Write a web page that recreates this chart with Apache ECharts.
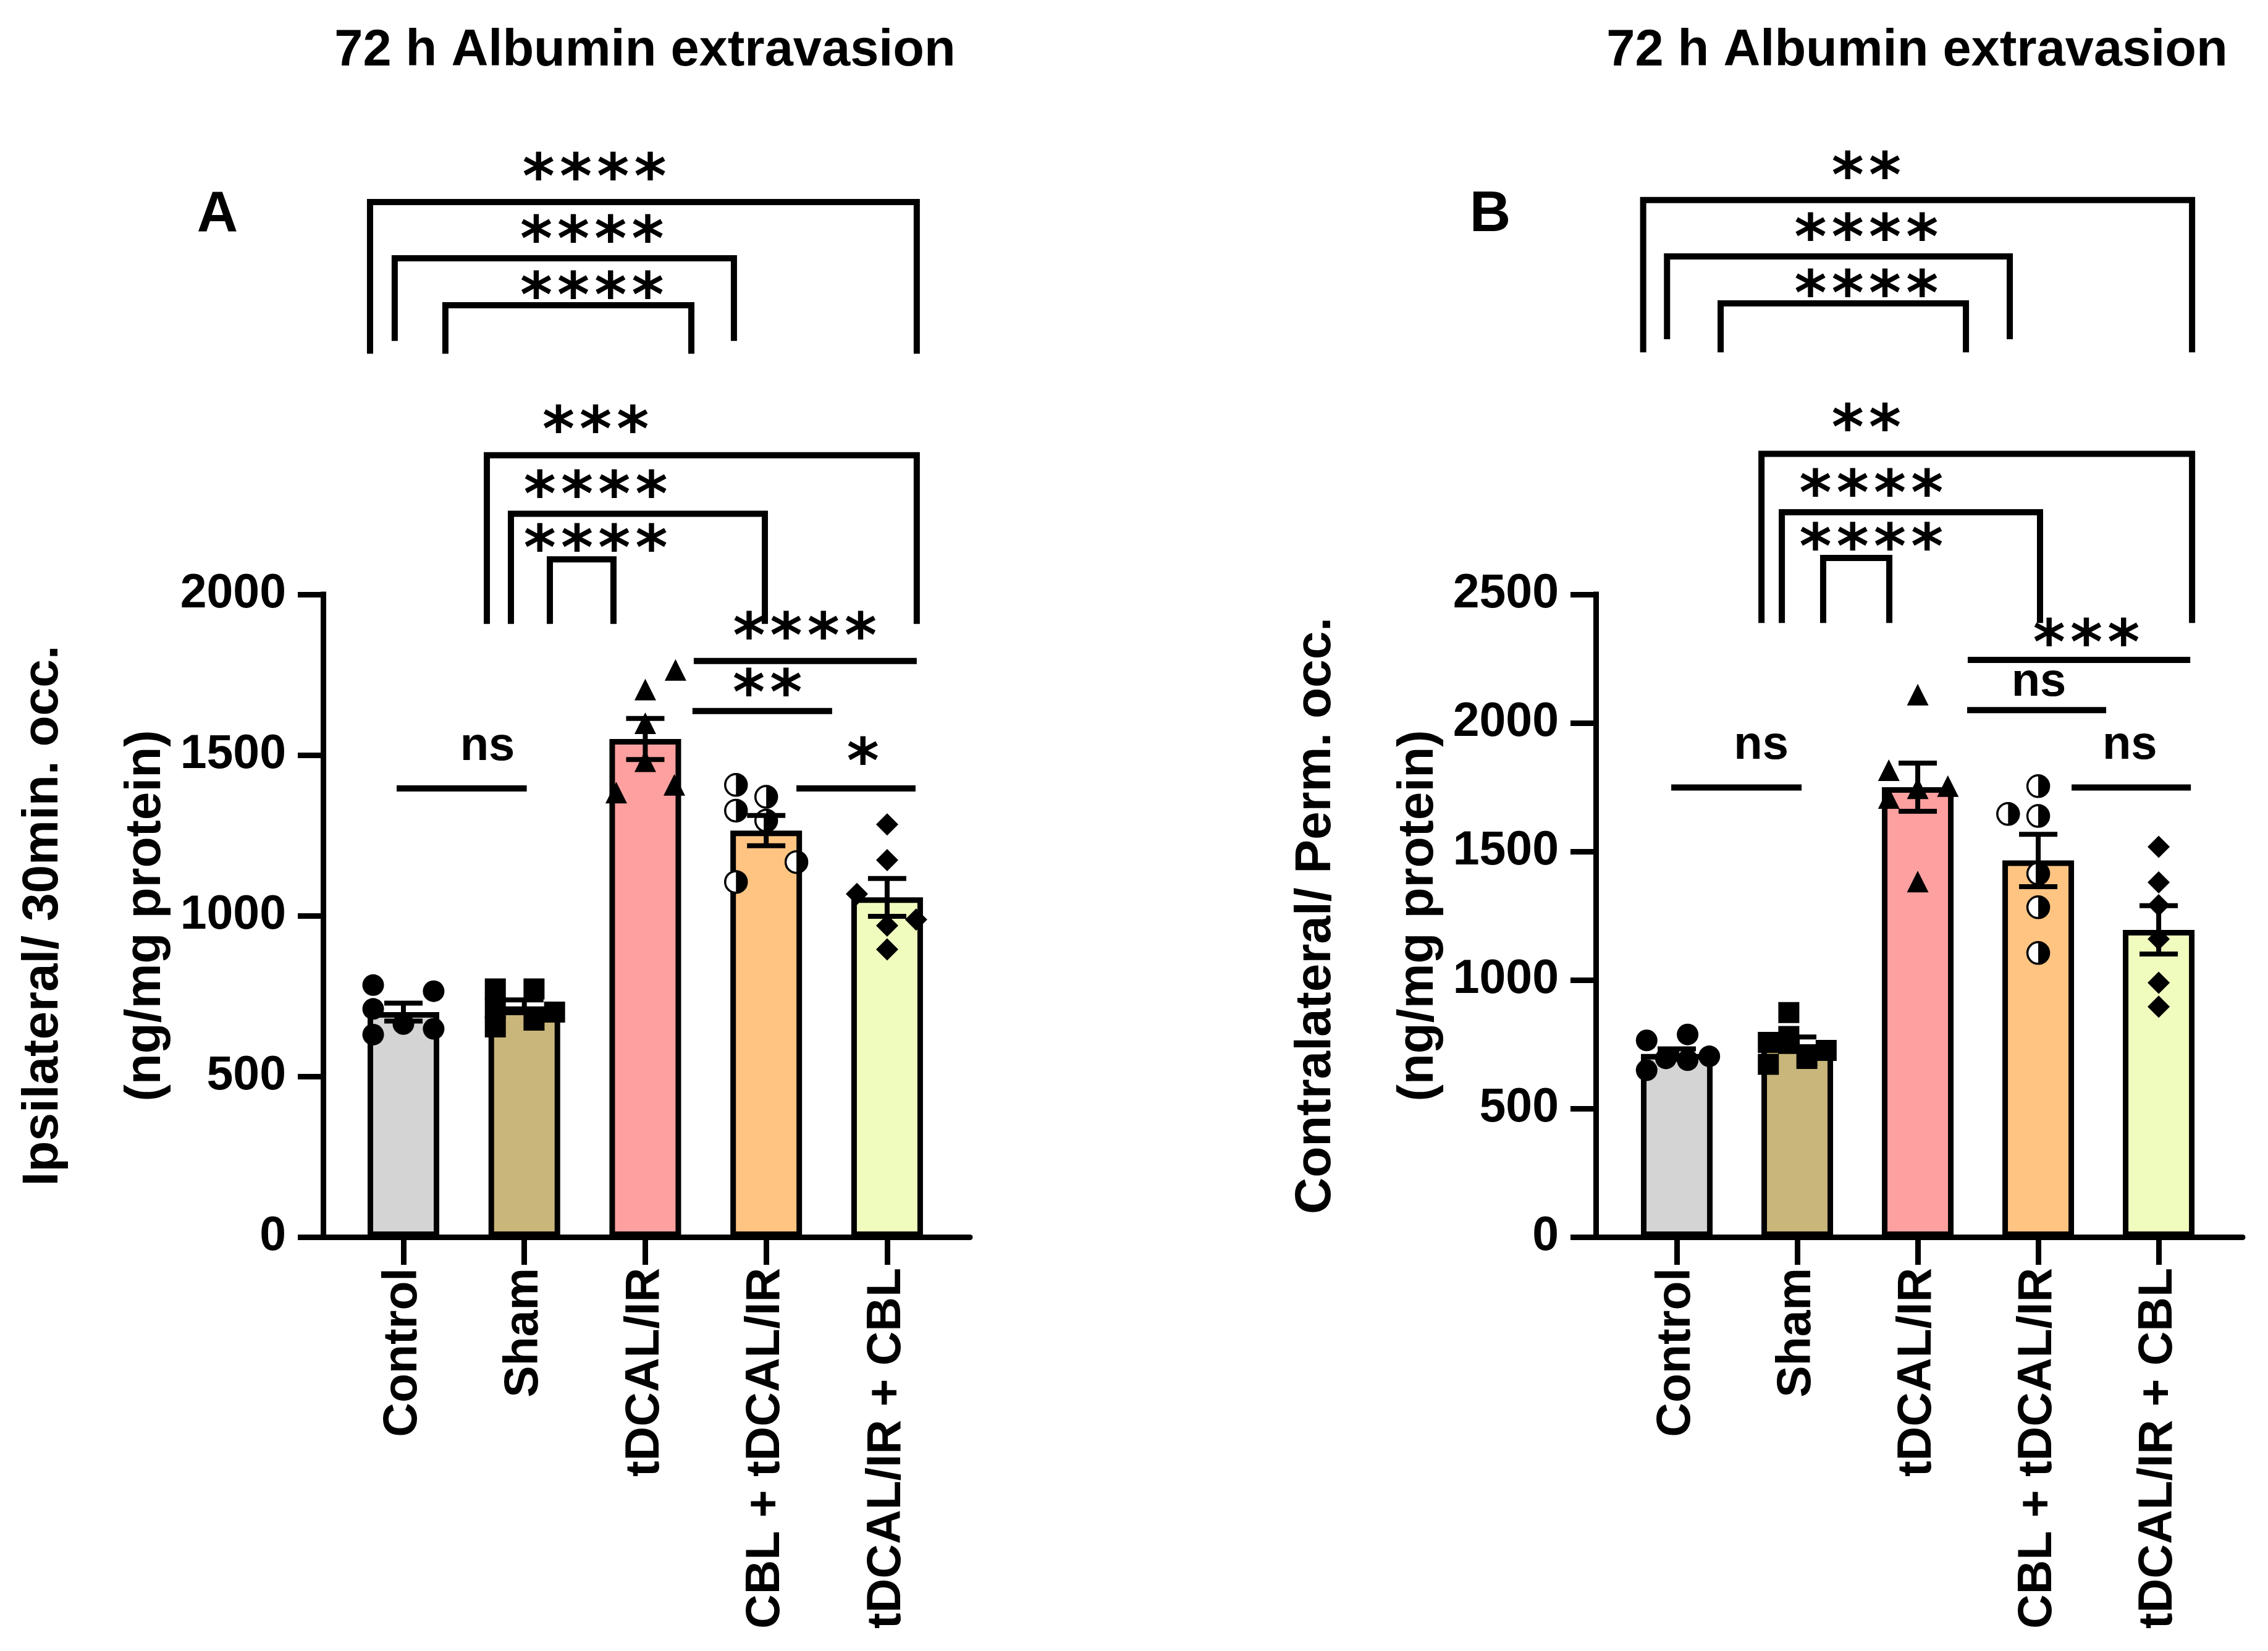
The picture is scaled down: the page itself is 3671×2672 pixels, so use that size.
<!DOCTYPE html>
<html><head><meta charset="utf-8">
<script src="https://cdn.jsdelivr.net/npm/echarts@6/dist/echarts.min.js"></script>
<style>html,body{margin:0;padding:0;background:#fff}#c{width:3671px;height:2672px}</style>
</head><body><div id="c"></div>
<script>
// ---------------- DATA ----------------
const categories = ['Control', 'Sham', 'tDCAL/IR', 'CBL + tDCAL/IR', 'tDCAL/IR + CBL'];
const titleText = '72 h Albumin extravasion';
const yNameA = 'Ipsilateral/ 30min. occ.\n(ng/mg protein)';
const yNameB = 'Contralateral/ Perm. occ.\n(ng/mg protein)';
const yTicksA = [0, 500, 1000, 1500, 2000];
const yTicksB = [0, 500, 1000, 1500, 2000, 2500];

const meanA = [700, 718, 1550, 1265, 1057];
const semA  = [28, 20, 64, 47, 59];
const meanB = [712, 750, 1750, 1465, 1195];
const semB  = [20, 28, 94, 102, 94];

const pointsA = [
  [784, 765, 710, 663, 648, 630],
  [772, 772, 712, 700, 675, 654],
  [1765, 1704, 1599, 1481, 1407, 1383],
  [1407, 1370, 1327, 1296, 1167, 1105],
  [1284, 1173, 1068, 988, 969, 895]
];
const pointsB = [
  [788, 765, 703, 695, 688, 649],
  [873, 780, 757, 726, 695, 672],
  [2110, 1816, 1754, 1746, 1708, 1383],
  [1754, 1646, 1638, 1414, 1283, 1105],
  [1518, 1380, 1291, 1159, 989, 896]
];

const sigLabelsA = ['****', '****', '****', '***', '****', '****', '****', '**', '*', 'ns'];
const sigLabelsB = ['**', '****', '****', '**', '****', '****', '***', 'ns', 'ns', 'ns'];

// ---------------- LAYOUT / STYLE ----------------
// horizontal jitter of points (in category units)
const jitterA = [
  [-0.25, 0.25, -0.25, 0, 0.25, -0.25],
  [-0.24, 0.08, -0.24, 0.25, 0.08, -0.24],
  [0.25, 0, 0, 0, 0.24, -0.24],
  [-0.25, 0, -0.25, 0, 0.25, -0.25],
  [0, 0, -0.25, 0.24, 0, 0]
];
const jitterB = [
  [0.09, -0.25, 0.27, -0.09, 0.09, -0.25],
  [-0.07, -0.07, -0.24, 0.24, 0.08, -0.24],
  [0, -0.24, 0.25, 0, -0.24, 0],
  [0, -0.25, 0, 0, 0, 0],
  [0, 0, 0, 0, 0, 0]
];
// [x1, x2, yLine, yLegEnd (null = plain line), textX, textY]
const sigLayoutA = [
  [-0.276, 4.245, 3221, 2749, 1.58, 3324],
  [-0.072, 2.733, 3046, 2789, 1.56, 3129],
  [0.347, 2.381, 2900, 2749, 1.56, 2954],
  [0.690, 4.245, 2433, 1908, 1.59, 2537],
  [0.889, 2.989, 2251, 1908, 1.59, 2334],
  [1.211, 1.737, 2109, 1908, 1.59, 2167],
  [2.401, 4.245, 1793, null, 3.32, 1894],
  [2.390, 3.545, 1637, null, 3.01, 1717],
  [3.250, 4.235, 1396, null, 3.80, 1503],
  [-0.056, 1.020, 1396, null, 0.695, 1514]
];
const sigLayoutB = [
  [-0.279, 4.277, 4034, 3442, 1.574, 4159],
  [-0.081, 2.764, 3815, 3493, 1.574, 3918],
  [0.364, 2.400, 3632, 3442, 1.574, 3699],
  [0.703, 4.277, 3047, 2389, 1.574, 3178],
  [0.872, 3.015, 2820, 2389, 1.615, 2923],
  [1.215, 1.764, 2642, 2389, 1.615, 2714],
  [2.415, 4.262, 2245, null, 3.40, 2341],
  [2.410, 3.564, 2050, null, 3.005, 2142],
  [3.277, 4.267, 1749, null, 3.76, 1897],
  [-0.046, 1.036, 1749, null, 0.70, 1897]
];

const barColors = ['#D4D4D4', '#C8B67A', '#FFA0A0', '#FFC482', '#F0FCBE'];
const FONT = '"Liberation Sans", Arial, sans-serif';
const AST_FONT = '"DejaVu Sans Mono", monospace';
const AXIS_W = 9, BAR_BORDER = 9, SIG_W = 10, ERR_W = 8;
const AST_SIZE = 100, AST_DY = 20, NS_SIZE = 76, NS_DY = -6;
const CAP_HALF = 31;

// ---------------- BUILD ----------------
const chart = echarts.init(document.getElementById('c'), null, {renderer: 'canvas'});

function xAxisCfg(gridIndex, min, max) {
  return {
    type: 'value', gridIndex, min, max,
    splitLine: {show: false},
    axisLine: {show: true, onZero: false, lineStyle: {color: '#000', width: AXIS_W}},
    axisTick: {show: true, customValues: [0, 1, 2, 3, 4], length: 45, lineStyle: {color: '#000', width: AXIS_W}},
    axisLabel: {
      show: true, customValues: [0, 1, 2, 3, 4], rotate: 90, margin: 50,
      formatter: v => categories[Math.round(v)],
      color: '#000', fontSize: 77, fontWeight: 'bold', fontFamily: FONT
    }
  };
}
function yAxisCfg(gridIndex, max, name) {
  return {
    type: 'value', gridIndex, min: 0, max, interval: 500,
    splitLine: {show: false},
    axisLine: {show: true, onZero: false, lineStyle: {color: '#000', width: AXIS_W, cap: 'square'}},
    axisTick: {show: true, length: 41, lineStyle: {color: '#000', width: AXIS_W}},
    axisLabel: {margin: 60, color: '#000', fontSize: 77, fontWeight: 'bold', fontFamily: FONT,
      formatter: v => String(v)},
    name, nameLocation: 'middle', nameRotate: 90, nameGap: 204, nameMoveOverlap: false,
    nameTextStyle: {color: '#000', fontSize: 82, fontWeight: 'bold', fontFamily: FONT, lineHeight: 166}
  };
}

function errRender(means, sems) {
  return function (params, api) {
    const i = params.dataIndex;
    const top = api.coord([i, means[i] + sems[i]]);
    const bot = api.coord([i, means[i] - sems[i]]);
    const s = {stroke: '#000', lineWidth: ERR_W};
    return {type: 'group', children: [
      {type: 'line', shape: {x1: top[0], y1: top[1], x2: bot[0], y2: bot[1]}, style: s},
      {type: 'line', shape: {x1: top[0] - CAP_HALF, y1: top[1], x2: top[0] + CAP_HALF, y2: top[1]}, style: s},
      {type: 'line', shape: {x1: bot[0] - CAP_HALF, y1: bot[1], x2: bot[0] + CAP_HALF, y2: bot[1]}, style: s}
    ]};
  };
}

function sigRender(layout, labels) {
  return function (params, api) {
    const d = layout[params.dataIndex];
    const pL = api.coord([d[0], d[2]]), pR = api.coord([d[1], d[2]]);
    let pts;
    if (d[3] != null) {
      pts = [api.coord([d[0], d[3]]), pL, pR, api.coord([d[1], d[3]])];
    } else {
      pts = [pL, pR];
    }
    const t = api.coord([d[4], d[5]]);
    const lab = labels[params.dataIndex];
    const ns = lab === 'ns';
    return {type: 'group', children: [
      {type: 'polyline', shape: {points: pts}, style: {stroke: '#000', lineWidth: SIG_W, fill: null, lineJoin: 'miter'}},
      {type: 'text', x: t[0], y: t[1] + (ns ? NS_DY : AST_DY), style: {
        text: lab, fill: '#000', align: 'center', verticalAlign: 'middle',
        fontSize: ns ? NS_SIZE : AST_SIZE, fontWeight: 'bold', fontFamily: ns ? FONT : AST_FONT
      }}
    ]};
  };
}

const symbolCfg = [
  {symbol: 'circle', size: 35},
  {symbol: 'rect', size: 34},
  {symbol: 'triangle', size: 35},
  {symbol: 'circle', size: 35, half: true},
  {symbol: 'diamond', size: 36}
];

function panelSeries(idx, means, sems, points, jitter, sigLayout, sigLabels) {
  const list = [];
  list.push({
    type: 'bar', xAxisIndex: idx, yAxisIndex: idx, barWidth: 116, z: 2,
    itemStyle: {borderColor: '#000', borderWidth: BAR_BORDER},
    data: means.map((v, i) => ({value: [i, v], itemStyle: {color: barColors[i]}}))
  });
  points.forEach((vals, g) => {
    const sc = symbolCfg[g];
    const data = vals.map((v, k) => [g + jitter[g][k], v]);
    if (sc.half) {
      list.push({type: 'scatter', xAxisIndex: idx, yAxisIndex: idx, z: 3, symbol: 'circle', symbolSize: sc.size,
        itemStyle: {color: '#fff', borderColor: '#000', borderWidth: 3.5, opacity: 1}, data});
      list.push({type: 'scatter', xAxisIndex: idx, yAxisIndex: idx, z: 3,
        symbol: 'path://M0,0 A10,10 0 0 1 0,20 Z', symbolSize: [sc.size / 2, sc.size], symbolOffset: [sc.size / 4, 0],
        itemStyle: {color: '#000', opacity: 1}, data});
    } else {
      list.push({type: 'scatter', xAxisIndex: idx, yAxisIndex: idx, z: 3, symbol: sc.symbol, symbolSize: sc.size,
        itemStyle: {color: '#000', opacity: 1}, data});
    }
  });
  list.push({
    type: 'custom', xAxisIndex: idx, yAxisIndex: idx, z: 4, clip: false,
    renderItem: errRender(means, sems),
    data: means.map((v, i) => [i, v])
  });
  list.push({
    type: 'custom', xAxisIndex: idx, yAxisIndex: idx, z: 4, clip: false,
    renderItem: sigRender(sigLayout, sigLabels),
    data: sigLayout.map(d => [d[4], d[5]])
  });
  return list;
}

const option = {
  backgroundColor: '#fff',
  animation: false,
  grid: [
    {left: 523, top: 962, width: 1047, height: 1040, outerBoundsMode: 'none', containLabel: false},
    {left: 2583, top: 962, width: 1047, height: 1040, outerBoundsMode: 'none', containLabel: false}
  ],
  xAxis: [xAxisCfg(0, -0.664, 4.685), xAxisCfg(1, -0.672, 4.697)],
  yAxis: [yAxisCfg(0, yTicksA[yTicksA.length - 1], yNameA), yAxisCfg(1, yTicksB[yTicksB.length - 1], yNameB)],
  graphic: [
    {type: 'text', x: 1044, y: 83, style: {text: titleText, fill: '#000', align: 'center', verticalAlign: 'middle', fontSize: 83, fontWeight: 'bold', fontFamily: FONT}},
    {type: 'text', x: 3103, y: 83, style: {text: titleText, fill: '#000', align: 'center', verticalAlign: 'middle', fontSize: 83, fontWeight: 'bold', fontFamily: FONT}},
    {type: 'text', x: 352, y: 349, style: {text: 'A', fill: '#000', align: 'center', verticalAlign: 'middle', fontSize: 92, fontWeight: 'bold', fontFamily: FONT}},
    {type: 'text', x: 2412, y: 349, style: {text: 'B', fill: '#000', align: 'center', verticalAlign: 'middle', fontSize: 92, fontWeight: 'bold', fontFamily: FONT}}
  ],
  series: [].concat(
    panelSeries(0, meanA, semA, pointsA, jitterA, sigLayoutA, sigLabelsA),
    panelSeries(1, meanB, semB, pointsB, jitterB, sigLayoutB, sigLabelsB)
  )
};
chart.setOption(option);
</script>
</body></html>
